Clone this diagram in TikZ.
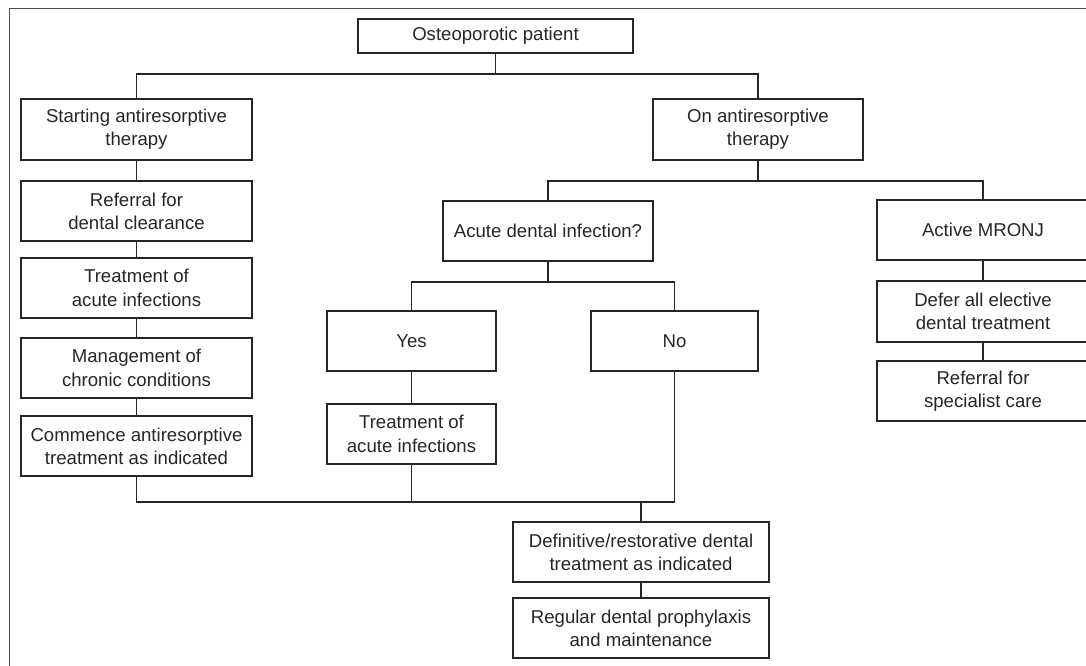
\documentclass[tikz,border=0pt]{standalone}
\usepackage{fontspec}
\setmainfont{Liberation Sans}
\definecolor{ink}{HTML}{262626}
\definecolor{frame}{HTML}{4A4A4A}
\begin{document}
\begin{tikzpicture}[x=1pt,y=-1pt,
  box/.style={draw=ink,line width=1.1pt,rectangle,inner sep=0pt,align=center,text=ink,
    font=\fontsize{18.6}{23.3}\selectfont},
  lnk/.style={draw=ink,line width=1.1pt}]
\useasboundingbox (0,0) rectangle (1086,665);
\draw[frame,line width=0.9pt] (9.5,670) -- (9.5,8) -- (1090,8);
% left column
\node[box,minimum width=275pt,minimum height=34pt] (osteo) at (495.5,36) {Osteoporotic patient};
\node[box,minimum width=231pt,minimum height=61pt] (start) at (136.5,129.5) {Starting antiresorptive\\therapy};
\node[box,minimum width=231pt,minimum height=60pt] (ref) at (136.5,211) {Referral for\\dental clearance};
\node[box,minimum width=231pt,minimum height=60pt] (treatA) at (136.5,288) {Treatment of\\acute infections};
\node[box,minimum width=231pt,minimum height=60pt] (manage) at (136.5,368) {Management of\\chronic conditions};
\node[box,minimum width=231pt,minimum height=60pt] (commence) at (136.5,446) {Commence antiresorptive\\treatment as indicated};
% right branch
\node[box,minimum width=210pt,minimum height=61pt] (on) at (758,129.5) {On antiresorptive\\therapy};
\node[box,minimum width=210pt,minimum height=60pt] (acute) at (548,231) {Acute dental infection?};
\node[box,minimum width=169pt,minimum height=60pt] (yes) at (411.5,341) {Yes};
\node[box,minimum width=167pt,minimum height=60pt] (no) at (674.5,341) {No};
\node[box,minimum width=169pt,minimum height=60pt] (treatB) at (411.5,434) {Treatment of\\acute infections};
\node[box,minimum width=212pt,minimum height=60pt] (mronj) at (983,230) {Active MRONJ};
\node[box,minimum width=212pt,minimum height=61pt] (defer) at (983,311.5) {Defer all elective\\dental treatment};
\node[box,minimum width=212pt,minimum height=60pt] (refspec) at (983,391) {Referral for\\specialist care};
\node[box,minimum width=256pt,minimum height=60pt] (defin) at (641,552) {Definitive/restorative dental\\treatment as indicated};
\node[box,minimum width=256pt,minimum height=60pt] (regular) at (641,628) {Regular dental prophylaxis\\and maintenance};
% junctions
\coordinate (j1) at (495.5,74);
\coordinate (j2) at (758,181);
\coordinate (j3) at (548,282);
\coordinate (j4) at (674.5,502);
% connectors
\draw[lnk] (osteo.south) -- (j1);
\draw[lnk] (start.north) |- (j1) -| (on.north);
\draw[lnk] (start.south) -- (ref.north);
\draw[lnk] (ref.south) -- (treatA.north);
\draw[lnk] (treatA.south) -- (manage.north);
\draw[lnk] (manage.south) -- (commence.north);
\draw[lnk] (on.south) -- (j2);
\draw[lnk] (acute.north) |- (j2) -| (mronj.north);
\draw[lnk] (acute.south) -- (j3);
\draw[lnk] (yes.north) |- (j3) -| (no.north);
\draw[lnk] (yes.south) -- (treatB.north);
\draw[lnk] (mronj.south) -- (defer.north);
\draw[lnk] (defer.south) -- (refspec.north);
\draw[lnk] (commence.south) |- (j4) -- (no.south);
\draw[lnk] (treatB.south) -- (treatB.south |- j4);
\draw[lnk] (defin.north |- j4) -- (defin.north);
\draw[lnk] (defin.south) -- (regular.north);
\end{tikzpicture}
\end{document}
